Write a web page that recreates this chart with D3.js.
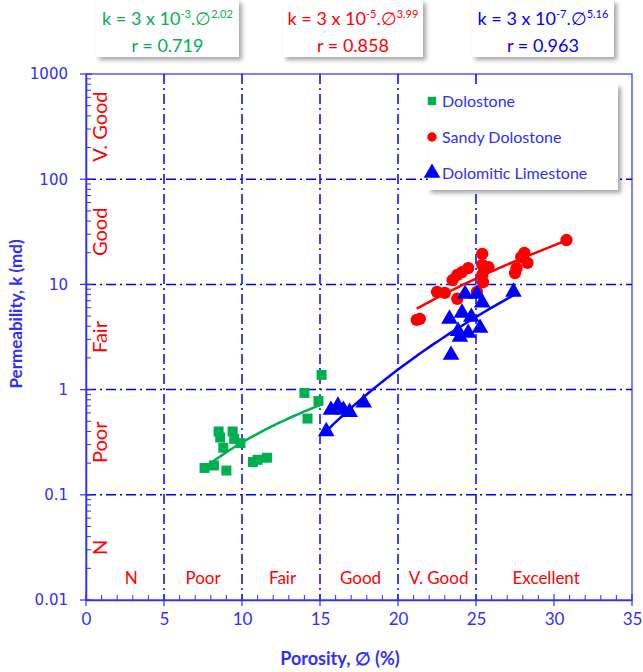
<!DOCTYPE html>
<html><head><meta charset="utf-8">
<script src="https://cdn.jsdelivr.net/npm/d3@7/dist/d3.min.js"></script>
<style>body{margin:0;background:#fff}svg{display:block}</style>
</head><body>
<svg id="c" width="643" height="672"></svg>
<script>
// ---- data ----
const dolostonePor  = [7.6, 8.2, 9.0, 8.5, 8.6, 8.8, 9.4, 9.5, 9.9, 10.7, 11.0, 11.6, 15.1, 14.0, 14.9, 14.2];
const dolostonePerm = [0.18, 0.19, 0.17, 0.40, 0.35, 0.28, 0.40, 0.34, 0.31, 0.205, 0.215, 0.225, 1.38, 0.93, 0.78, 0.53];
const sandyPor  = [30.8, 28.1, 27.9, 28.3, 27.6, 27.5, 25.4, 25.4, 25.8, 25.4, 25.45, 24.5, 24.1, 23.8, 23.5, 25.06, 22.5, 23.0, 23.8, 21.2, 21.4];
const sandyPerm = [26.4, 19.9, 18.2, 16.0, 14.3, 12.8, 19.5, 15.3, 14.6, 12.3, 10.5, 14.3, 13.1, 12.3, 11.0, 8.5, 8.5, 8.3, 7.3, 4.6, 4.7];
const limePor  = [15.4, 15.7, 16.15, 16.5, 16.9, 17.8, 24.3, 25.06, 25.4, 27.4, 23.3, 24.1, 24.7, 25.26, 23.85, 23.97, 24.5, 23.4];
const limePerm = [0.40, 0.64, 0.70, 0.64, 0.61, 0.75, 8.1, 8.1, 6.7, 8.5, 4.7, 5.35, 4.9, 3.85, 3.6, 3.16, 3.45, 2.13];

const seriesNames = ["Dolostone", "Sandy Dolostone", "Dolomitic Limestone"];
const fitA = [3e-3, 3e-5, 3e-7];
const fitB = [2.02, 3.99, 5.16];
const fitR = ["0.719", "0.858", "0.963"];
const fitExp = ["-3", "-5", "-7"];
const fitRange = [[8.0, 15.1], [21.2, 30.8], [15.3, 27.6]];

const xTicks = [0, 5, 10, 15, 20, 25, 30, 35];
const yTicks = [0.01, 0.1, 1, 10, 100, 1000];
const yTickLabels = ["0.01", "0.1", "1", "10", "100", "1000"];
const xGrid = [5, 10, 15, 20, 25];
const yGrid = [0.1, 1, 10, 100];
const porClasses = ["N", "Poor", "Fair", "Good", "V. Good", "Excellent"];
const porClassPos = [2.9, 7.5, 12.6, 17.6, 22.6, 29.5];
const permClasses = ["N", "Poor", "Fair", "Good", "V. Good"];
const permClassPos = [0.0316, 0.316, 3.16, 31.6, 316];

// ---- setup ----
const GREEN = "#00b050", RED = "#ff0000", BLUE = "#0000ff", AX = "#2f2fff";
const colors = [GREEN, RED, BLUE];
const svg = d3.select("#c");
const L = 86, R = 632, T = 74, B = 600;
const x = d3.scaleLinear().domain([0, 35]).range([L, R]);
const y = d3.scaleLog().domain([0.01, 1000]).range([B, T]);
const calib = "Lato, 'Open Sans', sans-serif";

// plot border
svg.append("rect").attr("x", L).attr("y", T).attr("width", R - L).attr("height", B - T)
  .attr("fill", "none").attr("stroke", AX).attr("stroke-width", 1.2);

// grid
const dash = "10,4,2,4";
svg.append("g").selectAll("line").data(xGrid).join("line")
  .attr("x1", d => x(d)).attr("x2", d => x(d)).attr("y1", T).attr("y2", B)
  .attr("stroke", BLUE).attr("stroke-width", 1.5).attr("stroke-dasharray", dash);
svg.append("g").selectAll("line").data(yGrid).join("line")
  .attr("y1", d => y(d)).attr("y2", d => y(d)).attr("x1", L).attr("x2", R)
  .attr("stroke", BLUE).attr("stroke-width", 1.5).attr("stroke-dasharray", dash);

// x axis
const xMinor = d3.range(0, 36, 1).filter(v => v % 5 !== 0);
const gx = svg.append("g").attr("transform", `translate(0,${B})`);
gx.call(d3.axisBottom(x).tickValues(xTicks).tickSize(0).tickPadding(13).tickFormat(d3.format("d")));
gx.select(".domain").attr("stroke", AX).attr("stroke-width", 1.5);
gx.selectAll(".tick text").attr("fill", AX).attr("font-size", 17).attr("font-family", calib);
gx.selectAll(".maj").data(xTicks).join("line").attr("x1", d => x(d)).attr("x2", d => x(d))
  .attr("y1", -6).attr("y2", 6).attr("stroke", AX).attr("stroke-width", 1.2);
gx.selectAll(".mn").data(xMinor).join("line").attr("x1", d => x(d)).attr("x2", d => x(d))
  .attr("y1", -5).attr("y2", 0).attr("stroke", AX).attr("stroke-width", 1);

// y axis
const yMinor = [];
[0.01, 0.1, 1, 10, 100].forEach(b => { for (let i = 2; i <= 9; i++) yMinor.push(b * i); });
const gy = svg.append("g").attr("transform", `translate(${L},0)`);
gy.call(d3.axisLeft(y).tickValues(yTicks).tickSize(0).tickPadding(18).tickFormat((d, i) => yTickLabels[i]));
gy.select(".domain").attr("stroke", AX).attr("stroke-width", 1.5);
gy.selectAll(".tick text").attr("fill", AX).attr("font-size", 15).attr("font-family", "'DejaVu Sans', sans-serif");
gy.selectAll(".maj").data(yTicks).join("line").attr("y1", d => y(d)).attr("y2", d => y(d))
  .attr("x1", -6).attr("x2", 6).attr("stroke", AX).attr("stroke-width", 1.2);
gy.selectAll(".mn").data(yMinor).join("line").attr("y1", d => y(d)).attr("y2", d => y(d))
  .attr("x1", 0).attr("x2", 5).attr("stroke", AX).attr("stroke-width", 1);

// axis titles
svg.append("text").attr("x", 340).attr("y", 665).attr("text-anchor", "middle")
  .attr("fill", AX).attr("font-weight", "bold").attr("font-size", 18).attr("font-family", calib)
  .text("Porosity, \u2205 (%)");
svg.append("text").attr("transform", "translate(22,314) rotate(-90)").attr("text-anchor", "middle")
  .attr("fill", AX).attr("font-weight", "bold").attr("font-size", 17).attr("font-family", calib)
  .text("Permeability, k (md)");

// class labels
svg.append("g").selectAll("text").data(porClasses).join("text")
  .attr("x", (d, i) => x(porClassPos[i])).attr("y", 584).attr("text-anchor", "middle")
  .attr("fill", RED).attr("font-size", 17).attr("font-family", calib).text(d => d);
svg.append("g").selectAll("text").data(permClasses).join("text")
  .attr("transform", (d, i) => `translate(107,${y(permClassPos[i])}) rotate(-90)`)
  .attr("text-anchor", "middle").attr("fill", RED).attr("font-size", 20).attr("font-family", calib).text(d => d);

// fit lines
const line = d3.line().x(d => x(d[0])).y(d => y(d[1]));
[0, 1, 2].forEach(s => {
  const [a, b] = fitRange[s];
  const pts = d3.range(0, 41).map(i => { const p = a + (b - a) * i / 40; return [p, fitA[s] * Math.pow(p, fitB[s])]; });
  svg.append("path").datum(pts).attr("d", line).attr("fill", "none")
    .attr("stroke", colors[s]).attr("stroke-width", 2.5);
});

// markers
const sym = [d3.symbolSquare, d3.symbolCircle, d3.symbolTriangle];
const symSize = [100, 120, 120];
const datasets = [[dolostonePor, dolostonePerm], [sandyPor, sandyPerm], [limePor, limePerm]];
datasets.forEach((ds, s) => {
  svg.append("g").selectAll("path").data(ds[0]).join("path")
    .attr("transform", (d, i) => `translate(${x(d)},${y(ds[1][i])})`)
    .attr("d", d3.symbol(sym[s], symSize[s])).attr("fill", colors[s]);
});

// shadow filter
const defs = svg.append("defs");
const f = defs.append("filter").attr("id", "sh").attr("x", "-10%").attr("y", "-10%").attr("width", "130%").attr("height", "130%");
f.append("feDropShadow").attr("dx", 3).attr("dy", 3).attr("stdDeviation", 2).attr("flood-color", "#000").attr("flood-opacity", 0.35);

// legend
const lg = svg.append("g");
lg.append("rect").attr("x", 428).attr("y", 84).attr("width", 190).attr("height", 106)
  .attr("fill", "#fff").attr("filter", "url(#sh)");
seriesNames.forEach((n, i) => {
  const yy = 101 + i * 36;
  lg.append("path").attr("transform", `translate(432,${yy})`).attr("d", d3.symbol(sym[i], i === 2 ? 120 : 70)).attr("fill", colors[i]);
  lg.append("text").attr("x", 442).attr("y", yy + 6).attr("fill", AX).attr("font-size", 16)
    .attr("font-family", calib).text(n);
});

// equation boxes
const boxX = [96, 283, 472];
const boxW = [143, 140, 142];
[0, 1, 2].forEach(s => {
  const g = svg.append("g");
  g.append("rect").attr("x", boxX[s]).attr("y", 0).attr("width", boxW[s]).attr("height", 57)
    .attr("fill", "#fff").attr("filter", "url(#sh)");
  const cx = boxX[s] + boxW[s] / 2;
  const t = g.append("text").attr("x", cx).attr("y", 25).attr("text-anchor", "middle")
    .attr("fill", colors[s]).attr("font-size", 18).attr("font-family", calib);
  t.append("tspan").text("k = 3 x 10");
  t.append("tspan").attr("font-size", 11).attr("dy", -7).text(fitExp[s]);
  t.append("tspan").attr("dy", 7).text(".\u2205");
  t.append("tspan").attr("font-size", 11).attr("dy", -7).text(fitB[s].toFixed(2));
  g.append("text").attr("x", cx).attr("y", 52).attr("text-anchor", "middle")
    .attr("fill", colors[s]).attr("font-size", 18).attr("font-family", calib).text("r = " + fitR[s]);
});
</script>
</body></html>
